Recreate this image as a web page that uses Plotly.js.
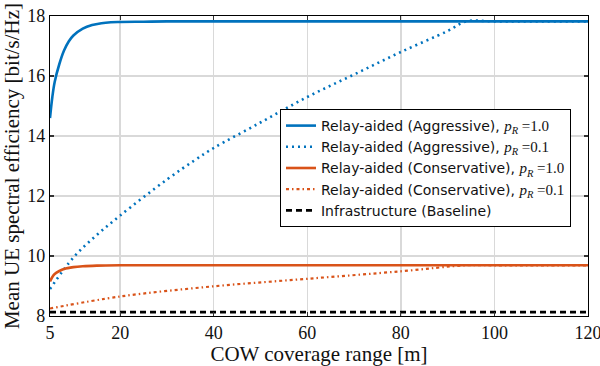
<!DOCTYPE html>
<html><head><meta charset="utf-8">
<script src="https://cdn.plot.ly/plotly-3.0.1.min.js"></script>
<style>html,body{margin:0;padding:0;background:#fff;}#chart{width:600px;height:366px;}</style>
</head><body><div id="chart"></div>
<script>
// Relay-aided (Aggressive), pR = 1.0
const aggFullX = [5, 5.5, 6, 7, 8, 9, 10, 12, 14, 16, 18, 20, 25, 30, 40, 60, 80, 100, 120];
const aggFullY = [14.6, 15.3, 15.8, 16.4, 16.85, 17.15, 17.35, 17.58, 17.7, 17.76, 17.79, 17.8, 17.81, 17.82, 17.82, 17.82, 17.82, 17.82, 17.82];
// Relay-aided (Aggressive), pR = 0.1
const aggLowX = [5, 10, 15, 20, 30, 36, 40, 50, 60, 70, 80, 90, 94, 100, 120];
const aggLowY = [8.9, 9.95, 10.7, 11.35, 12.55, 13.2, 13.6, 14.45, 15.3, 16.05, 16.8, 17.5, 17.82, 17.82, 17.82];
// Relay-aided (Conservative), pR = 1.0
const conFullX = [5, 5.5, 6, 7, 8, 10, 12, 15, 20, 40, 60, 80, 100, 120];
const conFullY = [9.15, 9.3, 9.4, 9.5, 9.57, 9.63, 9.66, 9.68, 9.69, 9.69, 9.69, 9.69, 9.69, 9.69];
// Relay-aided (Conservative), pR = 0.1
const conLowX = [5, 20, 40, 60, 80, 94, 100, 120];
const conLowY = [8.25, 8.65, 8.99, 9.24, 9.49, 9.69, 9.69, 9.69];
// Infrastructure (Baseline)
const baseX = [5, 120];
const baseY = [8.13, 8.13];

const xTicks = [5, 20, 40, 60, 80, 100, 120];
const yTicks = [8, 10, 12, 14, 16, 18];

const blue = '#0072BD', orange = '#D95319';
const pR = v => ', <span style="font-family:\'Liberation Serif\';font-size:15px"><i>p</i><sub><i>R</i></sub> =' + v + '</span>';

const traces = [
  {x: aggFullX, y: aggFullY, mode: 'lines', line: {color: blue, width: 2.6, shape: 'spline'}, name: 'Relay-aided (Aggressive)' + pR('1.0')},
  {x: aggLowX, y: aggLowY, mode: 'lines', line: {color: blue, width: 2.6, dash: '2px,4px', shape: 'spline'}, name: 'Relay-aided (Aggressive)' + pR('0.1')},
  {x: conFullX, y: conFullY, mode: 'lines', line: {color: orange, width: 2.6, shape: 'spline'}, name: 'Relay-aided (Conservative)' + pR('1.0')},
  {x: conLowX, y: conLowY, mode: 'lines', line: {color: orange, width: 2.2, dash: '3px,3px,1.5px,3px', shape: 'spline'}, name: 'Relay-aided (Conservative)' + pR('0.1')},
  {x: baseX, y: baseY, mode: 'lines', line: {color: 'black', width: 2.6, dash: '6px,4px'}, name: 'Infrastructure (Baseline)'}
];

const axisCommon = {
  showline: true, linecolor: 'black', linewidth: 1.2, mirror: 'ticks',
  ticks: 'inside', ticklen: 4, tickcolor: '#333', tickwidth: 1.2,
  showgrid: true, gridcolor: '#d9d9d9', gridwidth: 1.5, zeroline: false,
  ticklabeloverflow: 'allow',
  tickfont: {family: 'Liberation Serif', size: 18, color: '#111'}
};

const layout = {
  width: 600, height: 366,
  margin: {l: 50, r: 12, t: 16, b: 50},
  paper_bgcolor: 'white', plot_bgcolor: 'white',
  showlegend: true,
  xaxis: Object.assign({}, axisCommon, {
    range: [5, 120], tickvals: xTicks, ticktext: xTicks.map(String),
    title: {text: 'COW coverage range [m]', font: {family: 'Liberation Serif', size: 21, color: '#111'}, standoff: 2}
  }),
  yaxis: Object.assign({}, axisCommon, {
    range: [8, 18], tickvals: yTicks, ticktext: yTicks.map(String),
    title: {text: 'Mean UE spectral efficiency [bit/s/Hz]', font: {family: 'Liberation Serif', size: 21, color: '#111'}, standoff: 2}
  }),
  legend: {
    x: 0.4275, y: 0.69, xanchor: 'left', yanchor: 'top',
    bgcolor: 'white', bordercolor: 'black', borderwidth: 1,
    font: {family: 'DejaVu Sans', size: 14, color: '#111'},
    tracegroupgap: 0
  }
};

Plotly.newPlot('chart', traces, layout, {displayModeBar: false, staticPlot: true});
</script></body></html>
